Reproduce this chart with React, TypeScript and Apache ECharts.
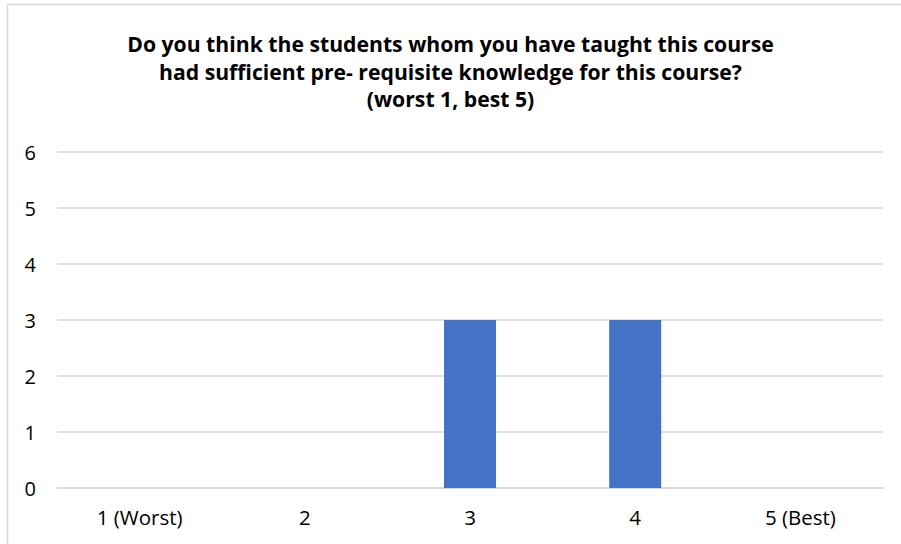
import React, { useEffect, useRef } from "react";
import * as echarts from "echarts";

const categories = ["1 (Worst)", "2", "3", "4", "5 (Best)"];
const values = [0, 0, 3, 3, 0];
const titleText =
  "Do you think the students whom you have taught this course\nhad sufficient pre- requisite knowledge for this course?\n(worst 1, best 5)";

export default function App() {
  const ref = useRef<HTMLDivElement>(null);
  useEffect(() => {
    document.body.style.margin = "0";
    const chart = echarts.init(ref.current!, null, { renderer: "svg" });
    chart.setOption({
      animation: false,
      backgroundColor: "#ffffff",
      title: {
        text: titleText,
        left: "center",
        top: 25,
        textStyle: {
          fontFamily: "Open Sans",
          fontWeight: "bold",
          fontSize: 21.2,
          lineHeight: 27.5,
          color: "#000000",
        },
      },
      graphic: [
        {
          type: "rect",
          shape: { x: 7.5, y: 4.5, width: 1000, height: 1000 },
          style: { fill: "none", stroke: "#d9d9d9", lineWidth: 1.5 },
          silent: true,
        },
      ],
      grid: { left: 57, right: 18, top: 152, bottom: 56, containLabel: false },
      xAxis: {
        type: "category",
        data: categories,
        axisLine: { show: true, lineStyle: { color: "#d9d9d9", width: 1.5 } },
        axisTick: { show: false },
        axisLabel: {
          fontFamily: "Open Sans",
          fontSize: 20.5,
          color: "#000000",
          margin: 18,
        },
      },
      yAxis: {
        type: "value",
        min: 0,
        max: 6,
        interval: 1,
        axisLine: { show: false },
        axisTick: { show: false },
        splitLine: { lineStyle: { color: "#d9d9d9", width: 1.5 } },
        axisLabel: {
          fontFamily: "Open Sans",
          fontSize: 20,
          color: "#000000",
          margin: 21,
        },
      },
      series: [
        {
          type: "bar",
          data: values,
          barWidth: 52,
          itemStyle: { color: "#4472c4" },
        },
      ],
    });
    return () => chart.dispose();
  }, []);
  return (
    <div
      ref={ref}
      style={{ position: "fixed", left: 0, top: 0, width: 901, height: 544 }}
    />
  );
}
